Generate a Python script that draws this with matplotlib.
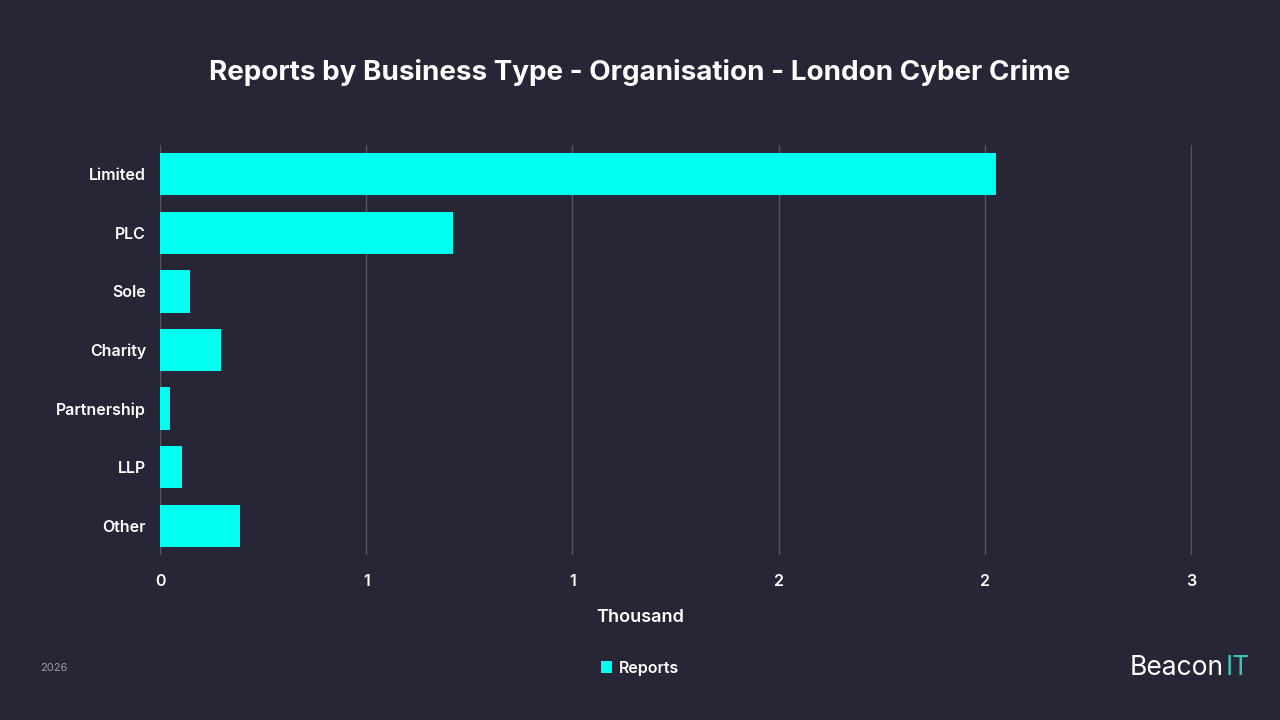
import matplotlib
matplotlib.use("Agg")
import matplotlib.pyplot as plt
from matplotlib.ticker import FuncFormatter

plt.rcParams['font.family'] = ['Inter', 'DejaVu Sans']

categories = ["Limited", "PLC", "Sole", "Charity", "Partnership", "LLP", "Other"]
reports = [2027, 711, 73, 148, 24, 53, 194]
tick_values = [0, 0.5, 1.0, 1.5, 2.0, 2.5]

bg = "#262637"
fig = plt.figure(figsize=(12.8, 7.2), dpi=100, facecolor=bg)
ax = fig.add_axes([160/1280, 1-555/720, (1192-160)/1280, (555-145)/720], facecolor=bg)
vals = [v/1000 for v in reports]
ypos = list(range(len(categories)))
ax.barh(ypos, vals, height=0.72, color="#00FFEE", label="Reports", zorder=3)
ax.set_ylim(len(categories)-0.5, -0.5)
ax.set_yticks(ypos)
ax.set_yticklabels(categories, color="white", fontsize=11.5, fontweight="semibold")
ax.set_xlim(0, 2.5024)
ax.set_xticks(tick_values)
ax.xaxis.set_major_formatter(FuncFormatter(lambda v, p: str(int(v + 0.5))))
ax.tick_params(axis="x", colors="white", labelsize=11.5, length=0, pad=14)
for t in ax.get_xticklabels():
    t.set_fontweight("semibold")
ax.tick_params(axis="y", length=0, pad=10)
ax.grid(axis="x", color="#55556a", linewidth=1, zorder=0)
for s in ax.spines.values():
    s.set_visible(False)
fig.text(640/1280, 1-618/720, "Thousand", ha="center", va="center", color="white",
         fontsize=13, fontweight="semibold")
fig.text(0.5, 1-72/720, "Reports by Business Type - Organisation - London Cyber Crime",
         ha="center", va="center", color="white", fontsize=20, fontweight="bold")
leg = fig.legend(loc="center", bbox_to_anchor=(0.5, 1-668/720), frameon=False,
                 handlelength=0.7, handleheight=0.7, handletextpad=0.4,
                 prop={"size": 11.5, "weight": "semibold"})
for t in leg.get_texts():
    t.set_color("white")
fig.text(40/1280, 1-668/720, "2026", color="#9a9aaa", fontsize=8, va="center")
fig.text(1250/1280, 1-668/720, "IT", color="#3fc1b8", fontsize=19, va="center", ha="right")
fig.text(1224/1280, 1-668/720, "Beacon", color="white", fontsize=19, va="center", ha="right")
fig.savefig("out.png", dpi=100, facecolor=bg)
